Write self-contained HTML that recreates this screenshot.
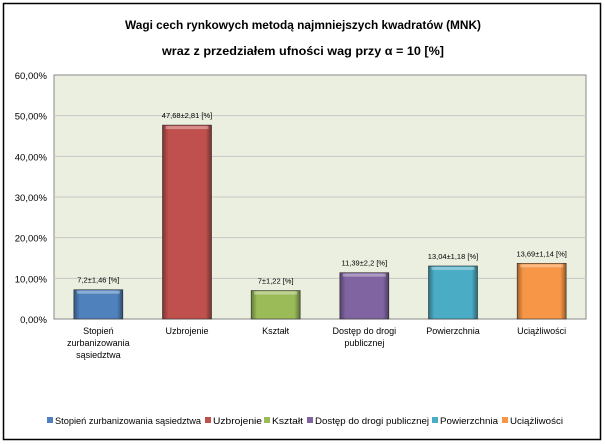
<!DOCTYPE html>
<html><head><meta charset="utf-8"><style>
body{margin:0;background:#fff;}
svg{display:block;font-family:"Liberation Sans",Arial,sans-serif;}
</style></head><body>
<svg id="c" width="605" height="445" viewBox="0 0 605 445">
<defs>
<linearGradient id="shade" x1="0" x2="1" y1="0" y2="0">
<stop offset="0" stop-color="#000" stop-opacity="0.35"/><stop offset="0.12" stop-color="#000" stop-opacity="0"/>
<stop offset="0.88" stop-color="#000" stop-opacity="0"/><stop offset="1" stop-color="#000" stop-opacity="0.4"/>
</linearGradient>
</defs>
<rect x="3.5" y="3.5" width="597" height="436" fill="#fff" stroke="#000" stroke-width="1.5"/>
<text x="303" y="29" text-anchor="middle" font-size="12" font-weight="bold" textLength="356" lengthAdjust="spacingAndGlyphs">Wagi cech rynkowych metodą najmniejszych kwadratów (MNK)</text>
<text x="303" y="55" text-anchor="middle" font-size="12" font-weight="bold" textLength="282" lengthAdjust="spacingAndGlyphs">wraz z przedziałem ufności wag  przy α = 10 [%]</text>
<rect x="54" y="75" width="532" height="244" fill="#ebefe0" stroke="#888" stroke-width="1"/>
<g id="grid"></g><g id="bars"></g><g id="legend"></g>
</svg>
<script>
const categories=["Stopień zurbanizowania sąsiedztwa","Uzbrojenie","Kształt","Dostęp do drogi publicznej","Powierzchnia","Uciążliwości"];
const catLines=[["Stopień","zurbanizowania","sąsiedztwa"],["Uzbrojenie"],["Kształt"],["Dostęp do drogi","publicznej"],["Powierzchnia"],["Uciążliwości"]];
const values=[7.2,47.68,7,11.39,13.04,13.69];
const valueLabels=["7,2±1,46 [%]","47,68±2,81 [%]","7±1,22 [%]","11,39±2,2 [%]","13,04±1,18 [%]","13,69±1,14 [%]"];
const colors=["#4f81bd","#c0504d","#9bbb59","#8064a2","#4bacc6","#f79646"];
const yTicks=[0,10,20,30,40,50,60];
const yTickLabels=["0,00%","10,00%","20,00%","30,00%","40,00%","50,00%","60,00%"];
const NS="http://www.w3.org/2000/svg";
const X0=54,X1=586,Y0=319,Y1=75,YMAX=60;
const y=v=>Y0-(v/YMAX)*(Y0-Y1);
const bw=(X1-X0)/categories.length;
const xc=i=>X0+bw*(i+0.5);
function mk(t,a,p){const e=document.createElementNS(NS,t);for(const k in a)e.setAttribute(k,a[k]);p.appendChild(e);return e;}
const grid=document.getElementById('grid');
yTicks.forEach((t,i)=>{
 if(t>0&&t<YMAX){const l=mk('line',{x1:X0,x2:X1,y1:y(t),y2:y(t),stroke:'#c8c8c8'},grid);
 
 }
 const tx=mk('text',{x:47,y:y(t)+4,'text-anchor':'end','font-size':9.5},grid);tx.textContent=yTickLabels[i];
 
 
});
const bars=document.getElementById('bars');
values.forEach((v,i)=>{
 const w=49,x=xc(i)-w/2;
 const g=mk('g',{},bars);
 
 
 mk('rect',{x:x,y:y(v),width:w,height:Y0-y(v),fill:colors[i],stroke:'#333','stroke-width':0.6},g);
 mk('rect',{x:x,y:y(v),width:w,height:Y0-y(v),fill:'url(#shade)'},g);
 mk('rect',{x:x+3,y:y(v)+1,width:w-6,height:3,fill:'#fff','fill-opacity':0.35},g);
 const t=mk('text',{x:xc(i),y:y(v)-7,'text-anchor':'middle','font-size':7.5},bars);t.textContent=valueLabels[i];
 
 
 catLines[i].forEach((s,j)=>{const c=mk('text',{x:xc(i),y:334+j*12,'text-anchor':'middle','font-size':9},bars);c.textContent=s;
 
 });
});
const leg=document.getElementById('legend');
const lx=[47,205,264,307,432,502];
const lw=[146,49,31,114,58,53];
categories.forEach((c,i)=>{
 const g=mk('g',{},leg);
 
 
 mk('rect',{x:lx[i],y:417,width:6,height:6,fill:colors[i]},g);
 const t=mk('text',{x:lx[i]+8,y:424,'font-size':9,textLength:lw[i],lengthAdjust:'spacingAndGlyphs'},g);t.textContent=c;
});
</script>
</body></html>
